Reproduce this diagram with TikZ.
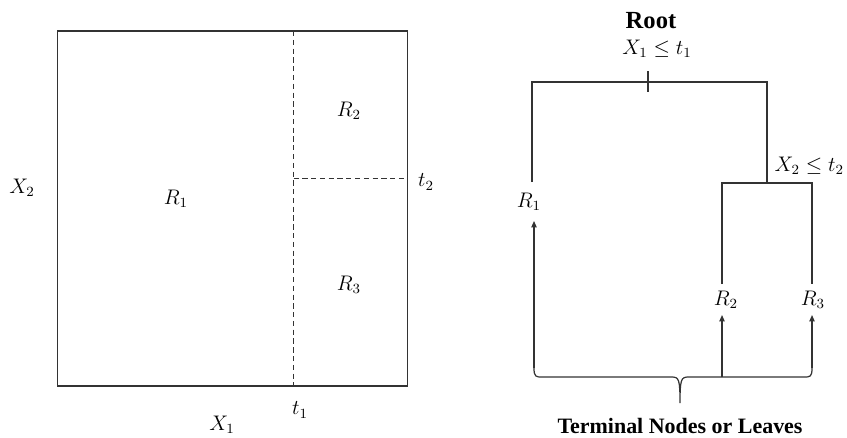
\documentclass[tikz,border=0pt]{standalone}
\usepackage{fontspec}
\usepackage{amsmath}
\usetikzlibrary{arrows.meta,positioning}
\newfontfamily\headfont{Liberation Serif}

\begin{document}
\begin{tikzpicture}[x=0.02cm, y=-0.02cm, font=\fontsize{11.5}{13}\selectfont,
  >={Triangle[length=3.6pt,width=3pt]},
  ln/.style={draw=black!80, line width=0.7pt},
  dv/.style={ln, dashed, dash pattern=on 3pt off 2pt},
  hd/.style={font=\fontsize{12.5}{15}\selectfont\headfont\bfseries}]
\useasboundingbox (0,0) rectangle (847,437);
% partition of the (X1,X2) plane
\coordinate (bl) at (57.5,386);
\coordinate (tr) at (407.5,31);
\draw[ln] (bl) rectangle (tr);
\coordinate (s1t) at (293.5,31);
\coordinate (s1b) at (293.5,386);
\draw[dv] (s1t) -- (s1b);
\coordinate (s2l) at (293.5,178.5);
\coordinate (s2r) at (407.5,178.5);
\draw[dv] (s2l) -- (s2r);
\node (p1) at (176,199) {$R_1$};
\node (p2) at (349,111) {$R_2$};
\node (p3) at (349,285) {$R_3$};
\node (x2) at (22,188) {$X_2$};
\node (x1) at (222,425) {$X_1$};
\node (t1) at (300,410) {$t_1$};
\node (t2) at (426,182) {$t_2$};
% tree
\node[hd, font=\fontsize{14}{16}\selectfont\headfont\bfseries] (root) at (651,21) {Root};
\node (c1) at (657,49) {$X_1 \leq t_1$};
\node[anchor=east, inner sep=1pt] (c2) at (846,166) {$X_2 \leq t_2$};
\coordinate (n1l) at (532,182);
\coordinate (n1r) at (767,183);
\coordinate (tk1) at (648,71);
\coordinate (tk2) at (648,92);
\draw[ln] (n1l) |- (767,82) -- (n1r);
\draw[ln] (tk1) -- (tk2);
\coordinate (n2l) at (722,284);
\coordinate (n2r) at (812,284);
\draw[ln] (n2l) |- (n2r |- n1r) -- (n2r);
\node (l1) at (529,202) {$R_1$};
\node (l2) at (726,300) {$R_2$};
\node (l3) at (813,300) {$R_3$};
% brace under the leaves
\coordinate (b1) at (534,368);
\coordinate (b2) at (722,377);
\coordinate (b3) at (812,368);
\coordinate (bt) at (680,403);
\draw[ln] (b1) .. controls (534,377) and (536,377) .. (542,377) -- (672,377)
  .. controls (679,377) and (680,380) .. (bt)
  .. controls (680,380) and (681,377) .. (688,377) -- (804,377)
  .. controls (810,377) and (812,377) .. (b3);
\coordinate (a1) at (534,221);
\coordinate (a2) at (722,315);
\coordinate (a3) at (812,315);
\draw[ln, ->] (b1) -- (a1);
\draw[ln, ->] (b2) -- (a2);
\draw[ln, ->] (b3) -- (a3);
\node[hd] (leaves) at (680,426) {Terminal Nodes or Leaves};
\end{tikzpicture}
\end{document}
